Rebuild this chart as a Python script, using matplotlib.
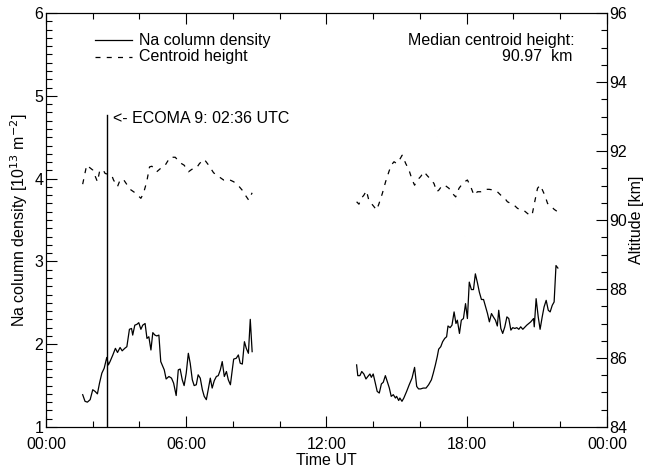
import numpy as np
import matplotlib
matplotlib.use("Agg")
import matplotlib.pyplot as plt
from matplotlib.ticker import MultipleLocator

plt.rcParams['font.family'] = ['Liberation Sans', 'DejaVu Sans']
FS = 11.5

# Na column density [1e13 m^-2], time in hours UT
t_na1 = [1.57, 1.67, 1.77, 1.89, 2.0, 2.1, 2.2, 2.29, 2.39, 2.49, 2.6, 2.67, 2.74, 2.86, 2.97,
         3.06, 3.17, 3.26, 3.37, 3.46, 3.57, 3.66, 3.71, 3.80, 3.89, 3.97, 4.06, 4.14, 4.24,
         4.32, 4.40, 4.49, 4.57, 4.66, 4.74, 4.83, 4.91, 4.97, 5.06, 5.14, 5.26, 5.37, 5.46,
         5.57, 5.66, 5.74, 5.83, 5.91, 6.0, 6.09, 6.17, 6.26, 6.34, 6.43, 6.51, 6.60, 6.69,
         6.77, 6.86, 6.94, 7.03, 7.11, 7.2, 7.29, 7.37, 7.46, 7.54, 7.63, 7.72, 7.8, 7.89,
         7.97, 8.03, 8.14, 8.23, 8.31, 8.40, 8.49, 8.57, 8.66, 8.74, 8.82]
na1 = [1.39, 1.31, 1.30, 1.33, 1.45, 1.43, 1.40, 1.53, 1.65, 1.71, 1.84, 1.75, 1.79, 1.87, 1.95,
       1.90, 1.96, 1.92, 1.95, 1.97, 2.18, 2.19, 2.11, 2.23, 2.24, 2.26, 2.18, 2.23, 2.25,
       2.07, 2.09, 1.93, 2.14, 2.11, 2.10, 2.11, 1.79, 1.75, 1.69, 1.58, 1.61, 1.59, 1.53,
       1.38, 1.69, 1.70, 1.57, 1.50, 1.65, 1.89, 1.77, 1.57, 1.50, 1.51, 1.63, 1.59, 1.45,
       1.37, 1.33, 1.45, 1.59, 1.47, 1.56, 1.61, 1.62, 1.69, 1.79, 1.61, 1.67, 1.57, 1.51,
       1.69, 1.82, 1.83, 1.87, 1.77, 1.76, 2.03, 1.95, 1.89, 2.30, 1.91]

t_na2 = [13.29, 13.34, 13.43, 13.51, 13.6, 13.69, 13.77, 13.86, 13.92, 14.0, 14.09, 14.17,
         14.26, 14.35, 14.43, 14.52, 14.6, 14.69, 14.77, 14.86, 14.95, 15.0, 15.09, 15.14,
         15.23, 15.31, 15.43, 15.54, 15.66, 15.77, 15.86, 15.94, 16.03, 16.14, 16.26, 16.37,
         16.49, 16.57, 16.66, 16.74, 16.8, 16.89, 16.97, 17.06, 17.14, 17.2, 17.29, 17.37,
         17.46, 17.54, 17.6, 17.69, 17.77, 17.86, 17.95, 18.03, 18.11, 18.2, 18.29, 18.37,
         18.46, 18.54, 18.63, 18.72, 18.8, 18.89, 18.97, 19.06, 19.14, 19.23, 19.31, 19.37,
         19.46, 19.54, 19.63, 19.72, 19.8, 19.89, 19.97, 20.06, 20.14, 20.23, 20.31, 20.4,
         20.57, 20.74, 20.86, 20.89, 20.97, 21.06, 21.14, 21.23, 21.31, 21.40, 21.49, 21.57,
         21.66, 21.74, 21.82, 21.9]
na2 = [1.75, 1.62, 1.62, 1.67, 1.64, 1.58, 1.61, 1.64, 1.60, 1.64, 1.53, 1.43,
       1.41, 1.52, 1.54, 1.62, 1.55, 1.47, 1.37, 1.39, 1.35, 1.37, 1.32, 1.35,
       1.31, 1.35, 1.43, 1.51, 1.59, 1.72, 1.49, 1.46, 1.46, 1.47, 1.47, 1.51,
       1.57, 1.65, 1.75, 1.85, 1.94, 1.97, 2.03, 2.07, 2.09, 2.22, 2.20, 2.23,
       2.39, 2.25, 2.29, 2.13, 2.29, 2.31, 2.49, 2.31, 2.75, 2.66, 2.66, 2.85,
       2.74, 2.63, 2.54, 2.54, 2.46, 2.37, 2.27, 2.37, 2.33, 2.29, 2.22, 2.41,
       2.19, 2.13, 2.21, 2.33, 2.31, 2.17, 2.20, 2.19, 2.20, 2.18, 2.21, 2.18,
       2.23, 2.27, 2.31, 2.21, 2.55, 2.33, 2.18, 2.33, 2.45, 2.53, 2.41, 2.39,
       2.47, 2.51, 2.95, 2.92]

# centroid height [km]
t_ch1 = [1.57, 1.74, 2.0, 2.2, 2.29, 2.43, 2.53, 2.81, 2.89, 3.06, 3.17, 3.31, 3.43, 3.6,
         3.81, 4.06, 4.17, 4.31, 4.43, 4.53, 4.74, 4.96, 5.1, 5.31, 5.53, 5.74, 5.91, 6.1,
         6.24, 6.43, 6.57, 6.77, 6.96, 7.17, 7.39, 7.6, 7.81, 8.03, 8.24, 8.39, 8.53, 8.67, 8.82]
ch1 = [91.04, 91.59, 91.45, 91.11, 91.40, 91.47, 91.35, 91.30, 91.16, 90.97, 91.16, 91.18,
       91.06, 90.89, 90.79, 90.63, 90.77, 91.11, 91.54, 91.56, 91.40, 91.53, 91.59, 91.82,
       91.82, 91.66, 91.59, 91.40, 91.47, 91.50, 91.64, 91.76, 91.59, 91.37, 91.26, 91.16,
       91.18, 91.11, 90.99, 90.87, 90.72, 90.58, 90.79]

t_ch2 = [13.29, 13.39, 13.49, 13.6, 13.71, 13.81, 13.92, 14.03, 14.14, 14.24, 14.39, 14.53,
         14.67, 14.77, 14.89, 15.0, 15.12, 15.24, 15.39, 15.53, 15.67, 15.77, 15.89, 16.03,
         16.17, 16.32, 16.46, 16.6, 16.72, 16.81, 16.96, 17.1, 17.24, 17.39, 17.53, 17.67,
         17.77, 17.91, 18.03, 18.17, 18.31, 18.46, 18.6, 18.77, 18.96, 19.14, 19.31, 19.46,
         19.63, 19.74, 19.89, 20.03, 20.17, 20.31, 20.46, 20.6, 20.74, 20.81, 20.91, 21.03,
         21.14, 21.24, 21.34, 21.46, 21.57, 21.74, 21.89]
ch2 = [90.53, 90.46, 90.63, 90.72, 90.85, 90.58, 90.48, 90.39, 90.29, 90.46, 90.77, 91.11,
       91.40, 91.59, 91.69, 91.64, 91.74, 91.88, 91.64, 91.45, 91.16, 91.01, 91.16, 91.26,
       91.40, 91.28, 91.18, 91.06, 90.82, 90.87, 91.01, 90.99, 90.92, 90.77, 90.67, 90.92,
       91.01, 91.11, 91.16, 90.97, 90.72, 90.82, 90.82, 90.89, 90.89, 90.87, 90.82, 90.72,
       90.63, 90.53, 90.48, 90.43, 90.34, 90.29, 90.27, 90.19, 90.12, 90.19, 90.53, 90.92,
       91.01, 90.87, 90.72, 90.48, 90.43, 90.31, 90.24]

x_ticks = [0, 6, 12, 18, 24]
x_labels = ['00:00', '06:00', '12:00', '18:00', '00:00']
ecoma_time = 2.6
median_height = 90.97

fig = plt.figure(figsize=(6.45, 4.67), dpi=100)
ax = fig.add_axes([0.0713, 0.0857, 0.8697, 0.8863])
ax2 = ax.twinx()

ax.plot(t_na1, na1, color='black', lw=0.9)
ax.plot(t_na2, na2, color='black', lw=0.9)
ax2.plot(t_ch1, ch1, color='black', lw=0.9, dashes=(4, 5))
ax2.plot(t_ch2, ch2, color='black', lw=0.9, dashes=(4, 5))

# rocket launch marker
ax.plot([ecoma_time, ecoma_time], [1, 4.77], color='black', lw=1.0)
ax.text(ecoma_time + 0.28, 4.73, '<- ECOMA 9: 02:36 UTC', fontsize=FS, va='center', ha='left')

ax.set_xlim(0, 24)
ax.set_ylim(1, 6)
ax2.set_ylim(84, 96)

ax.set_xticks(x_ticks)
ax.set_xticklabels(x_labels)
ax.xaxis.set_minor_locator(MultipleLocator(2))
ax.yaxis.set_major_locator(MultipleLocator(1))
ax.yaxis.set_minor_locator(MultipleLocator(0.1))
ax2.yaxis.set_major_locator(MultipleLocator(2))
ax2.yaxis.set_minor_locator(MultipleLocator(0.5))

ax.tick_params(axis='x', which='both', direction='in', top=True, bottom=True, labelsize=FS, pad=7)
ax.tick_params(axis='y', which='both', direction='in', right=False, labelsize=FS, pad=2)
ax.tick_params(which='major', length=8, width=0.8)
ax.tick_params(which='minor', length=4, width=0.8)
ax2.tick_params(axis='y', which='both', direction='in', labelsize=FS, pad=2)
ax2.tick_params(which='major', length=8, width=0.8)
ax2.tick_params(which='minor', length=4, width=0.8)

for a in (ax, ax2):
    for s in a.spines.values():
        s.set_linewidth(0.8)

ax.set_xlabel('Time UT', fontsize=FS, labelpad=1)
ax.set_ylabel('Na column density [10$^{13}$ m$^{-2}$]', fontsize=FS, labelpad=3)
ax2.set_ylabel('Altitude [km]', fontsize=FS, labelpad=1)

# legend
ax.plot([2.1, 3.7], [5.67, 5.67], color='black', lw=0.9)
ax.plot([2.1, 3.7], [5.47, 5.47], color='black', lw=0.9, dashes=(4, 5))
ax.text(4.0, 5.67, 'Na column density', fontsize=FS, va='center', ha='left')
ax.text(4.0, 5.47, 'Centroid height', fontsize=FS, va='center', ha='left')

ax.text(22.6, 5.67, 'Median centroid height:', fontsize=FS, va='center', ha='right')
ax.text(22.5, 5.47, '%.2f  km' % median_height, fontsize=FS, va='center', ha='right')

fig.savefig('out.png', dpi=100)
